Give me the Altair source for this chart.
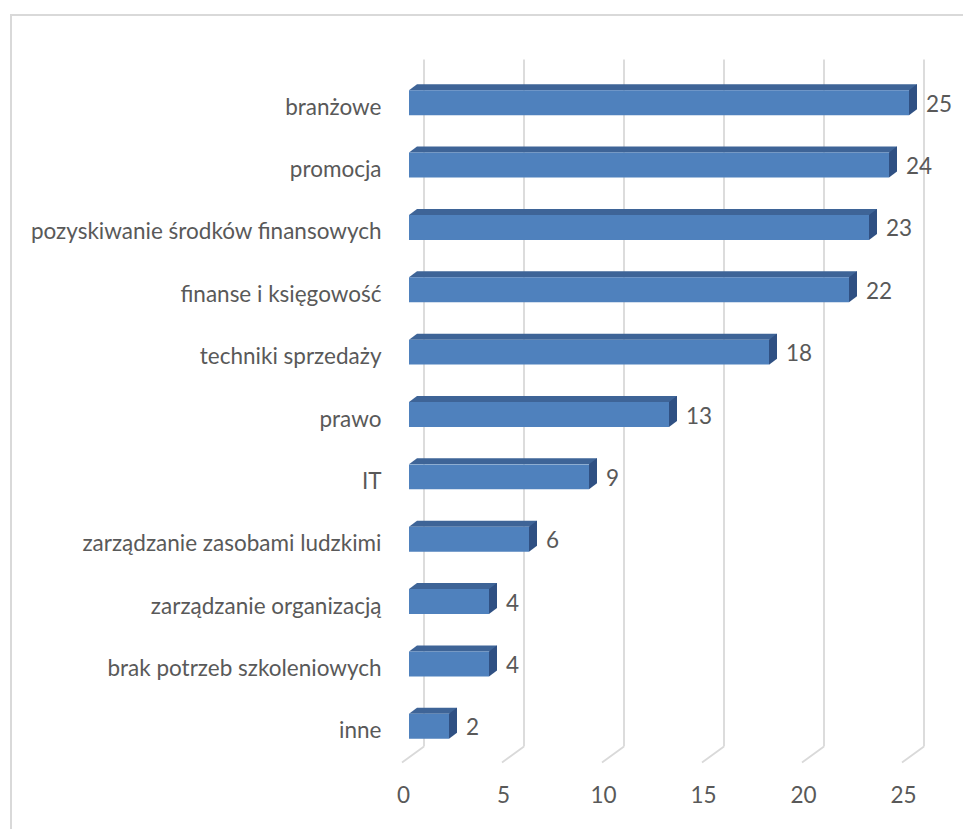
import altair as alt
import pandas as pd

categories = [
    "branżowe",
    "promocja",
    "pozyskiwanie środków finansowych",
    "finanse i księgowość",
    "techniki sprzedaży",
    "prawo",
    "IT",
    "zarządzanie zasobami ludzkimi",
    "zarządzanie organizacją",
    "brak potrzeb szkoleniowych",
    "inne",
]
values = [25, 24, 23, 22, 18, 13, 9, 6, 4, 4, 2]
tick_values = [0, 5, 10, 15, 20, 25]

FONT = "Lato"
TXT = "#595959"
FRONT = "#4F81BD"
TOP = "#3E6497"
SIDE = "#2F5083"
GRID = "#D9D9D9"

W, H = 500, 686
PAD_L, PAD_T = 409, 71.5
PAD_R, PAD_B = 963 - PAD_L - W, 829 - PAD_T - H

df = pd.DataFrame({"cat": categories, "val": values})
gdf = pd.DataFrame({"g": tick_values})

xscale = alt.Scale(domain=[0, 25], nice=False, zero=True)
yscale = alt.Scale(paddingInner=0.6, paddingOuter=0.3)

X = alt.X("val:Q", scale=xscale,
          axis=alt.Axis(values=tick_values, grid=False, domain=False, ticks=False,
                        labelFlush=False, labelOffset=-6, labelPadding=27,
                        labelFontSize=22.5, labelFont=FONT, labelColor=TXT, title=None))
Y = alt.Y("cat:N", sort=categories, scale=yscale,
          axis=alt.Axis(domain=False, ticks=False, grid=False, labelPadding=28,
                        labelOffset=5, labelFontSize=22.5, labelFont=FONT,
                        labelColor=TXT, title=None, labelLimit=500))

base = alt.Chart(df)
gbase = alt.Chart(gdf)

grid_v = gbase.mark_rule(color=GRID, strokeWidth=1.8, xOffset=15).encode(
    x=alt.X("g:Q", scale=xscale),
    y=alt.value(-12),
    y2=alt.value(H - 11),
)
grid_d = gbase.mark_rule(color=GRID, strokeWidth=1.8, xOffset=15, x2Offset=-7).encode(
    x=alt.X("g:Q", scale=xscale),
    x2="g:Q",
    y=alt.value(H - 11),
    y2=alt.value(H + 5),
)

top_face = base.mark_bar(color=TOP, size=6, yOffset=-15.5, xOffset=8, x2Offset=8).encode(
    x=X, y=Y
)
left_tri = base.mark_point(shape="M0,-12.5L8,-18.5L8,-12.5Z", size=4, filled=True,
                           strokeWidth=0, opacity=1, color=TOP).encode(
    x=alt.value(0), y=Y
)
front = base.mark_bar(color=FRONT).encode(x=X, y=Y)
side = base.mark_point(shape="M0,-12.5L8,-18.5L8,6.5L0,12.5Z", size=4, filled=True,
                       strokeWidth=0, opacity=1, color=SIDE).encode(x=X, y=Y)
labels = base.mark_text(align="left", baseline="middle", dx=17, dy=2, fontSize=22.5,
                        font=FONT, color=TXT).encode(x=X, y=Y, text="val:Q")

border_top = alt.Chart(df).mark_rule(color=GRID, strokeWidth=2).encode(
    x=alt.value(10 - PAD_L), x2=alt.value(980 - PAD_L),
    y=alt.value(15 - PAD_T),
)
border_left = alt.Chart(df).mark_rule(color=GRID, strokeWidth=2).encode(
    x=alt.value(11 - PAD_L),
    y=alt.value(14 - PAD_T), y2=alt.value(840 - PAD_T),
)

chart = alt.layer(
    grid_v, grid_d, top_face, left_tri, front, side, labels, border_top, border_left
).properties(
    width=W, height=H,
    autosize=alt.AutoSizeParams(type="none"),
    padding={"left": PAD_L, "top": PAD_T, "right": PAD_R, "bottom": PAD_B},
    background="white",
).configure_view(stroke=None)

chart.save("out.html", embed_options={"renderer": "svg", "actions": False})
